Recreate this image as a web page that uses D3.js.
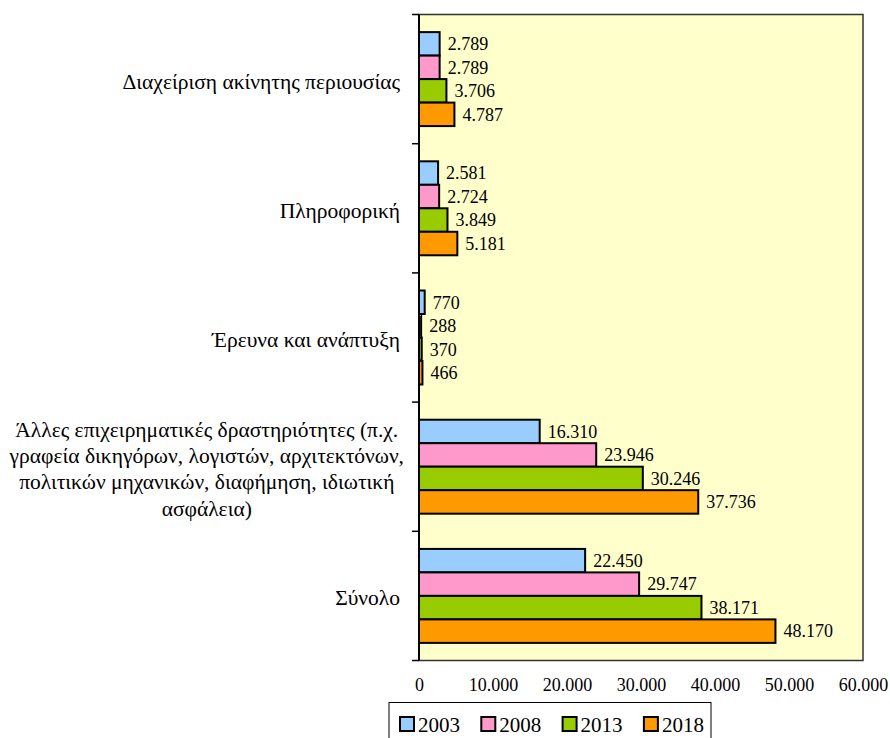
<!DOCTYPE html>
<html><head><meta charset="utf-8">
<script src="https://cdn.jsdelivr.net/npm/d3@7"></script>
<style>body{margin:0;background:#fff}svg{display:block}</style>
</head><body>
<svg id="c" width="890" height="738"></svg>
<script>
const categories = [
  ["Διαχείριση ακίνητης περιουσίας"],
  ["Πληροφορική"],
  ["Έρευνα και ανάπτυξη"],
  ["Άλλες επιχειρηματικές δραστηριότητες (π.χ.", "γραφεία δικηγόρων, λογιστών, αρχιτεκτόνων,", "πολιτικών μηχανικών, διαφήμηση, ιδιωτική", "ασφάλεια)"],
  ["Σύνολο"]
];
const seriesNames = ["2003", "2008", "2013", "2018"];
const v2003 = [2789, 2581, 770, 16310, 22450];
const v2008 = [2789, 2724, 288, 23946, 29747];
const v2013 = [3706, 3849, 370, 30246, 38171];
const v2018 = [4787, 5181, 466, 37736, 48170];
const seriesValues = [v2003, v2008, v2013, v2018];
const colors = ["#99CCFF", "#FF99CC", "#99CC00", "#FF9900"];
const tickValues = [0, 10000, 20000, 30000, 40000, 50000, 60000];

const fmt = v => d3.format(",")(v).replace(/,/g, ".");
const svg = d3.select("#c");
const L = 419, R = 863, T = 14.5, B = 660.5;
const x = d3.scaleLinear().domain([0, 60000]).range([L, R]);
const y = d3.scaleBand().domain(d3.range(categories.length)).range([T, B]);
const bw = y.bandwidth() / 5.5;
const font = "Liberation Serif";

svg.append("rect").attr("x", L).attr("y", T).attr("width", R - L).attr("height", B - T)
  .attr("fill", "#FFFFCC").attr("stroke", "#333").attr("stroke-width", 1.5);

// bars
categories.forEach((c, i) => {
  seriesValues.forEach((vals, s) => {
    const yy = y(i) + 0.75 * bw + s * bw;
    svg.append("rect").attr("x", x(0)).attr("y", yy)
      .attr("width", x(vals[i]) - x(0)).attr("height", bw)
      .attr("fill", colors[s]).attr("stroke", "#000").attr("stroke-width", 2);
    svg.append("text").attr("x", x(vals[i]) + 8).attr("y", yy + bw / 2)
      .attr("dy", "0.35em").style("font-family", font).attr("font-size", 18)
      .attr("fill", "#000").text(fmt(vals[i]));
  });
});

// y axis
svg.append("line").attr("x1", L).attr("x2", L).attr("y1", T).attr("y2", B)
  .attr("stroke", "#000").attr("stroke-width", 2);
d3.range(categories.length + 1).forEach(i => {
  const yy = i < categories.length ? y(i) : B;
  svg.append("line").attr("x1", L - 7).attr("x2", L).attr("y1", yy).attr("y2", yy)
    .attr("stroke", "#000").attr("stroke-width", 1.5);
});

// category labels
categories.forEach((lines, i) => {
  const cy = y(i) + y.bandwidth() / 2;
  const lh = 26.3;
  const g = svg.append("g");
  const texts = lines.map((ln, k) => g.append("text")
    .attr("y", cy + (k - (lines.length - 1) / 2) * lh + 2)
    .attr("dy", "0.35em").style("font-family", font).attr("font-size", 21.5)
    .attr("fill", "#000").text(ln));
  if (lines.length === 1) {
    texts[0].attr("x", 400).attr("text-anchor", "end");
  } else {
    const maxW = d3.max(texts, t => t.node().getComputedTextLength());
    texts.forEach(t => t.attr("x", 404 - maxW / 2).attr("text-anchor", "middle"));
  }
});

// x tick labels
const xAxis = svg.append("g").attr("transform", `translate(0,${B})`)
  .call(d3.axisBottom(x).tickValues(tickValues).tickFormat(fmt).tickSize(0).tickPadding(18));
xAxis.select(".domain").remove();
xAxis.attr("font-family", null).attr("font-size", null);
xAxis.selectAll("text").style("font-family", font).attr("font-size", 18).attr("fill", "#000");

// legend
const lg = svg.append("g");
lg.append("rect").attr("x", 389).attr("y", 702.5).attr("width", 322).attr("height", 50)
  .attr("fill", "#fff").attr("stroke", "#000").attr("stroke-width", 1);
seriesNames.forEach((n, s) => {
  const lx = 399 + s * 81.3;
  lg.append("rect").attr("x", lx + 1).attr("y", 717).attr("width", 14).attr("height", 14)
    .attr("fill", colors[s]).attr("stroke", "#000").attr("stroke-width", 2);
  lg.append("text").attr("x", lx + 19).attr("y", 731.5).style("font-family", font)
    .attr("font-size", 21).attr("fill", "#000").text(n);
});
</script>
</body></html>
